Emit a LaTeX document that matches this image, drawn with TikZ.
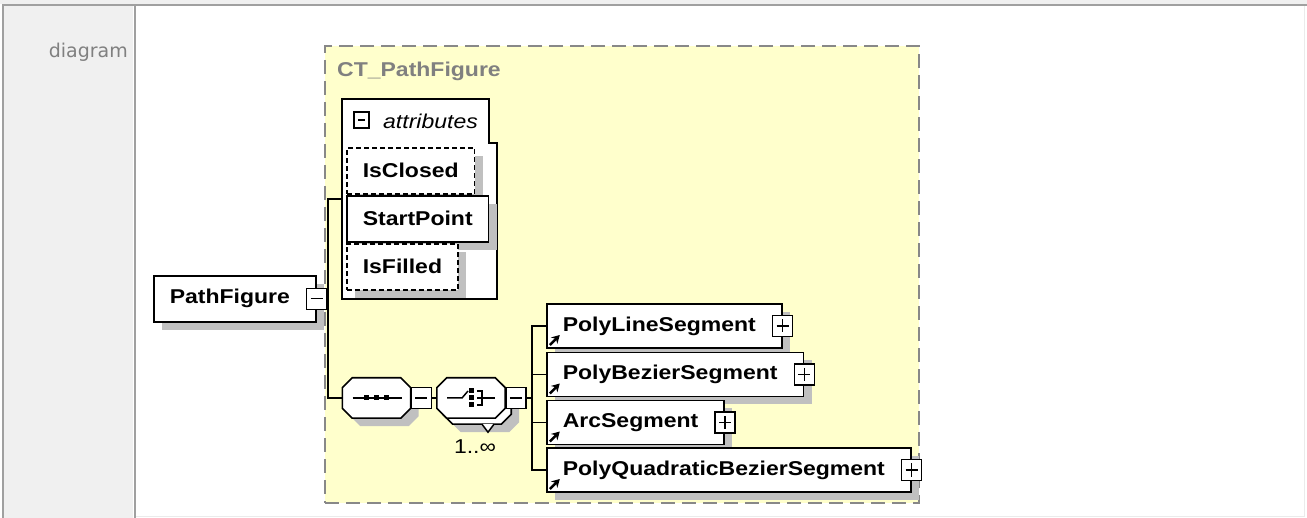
\documentclass[tikz,border=0pt]{standalone}
\usepackage{fontspec}
\setmainfont{Liberation Sans}[FakeStretch=1.15]
\newfontfamily\labelfont{DejaVu Sans}
\usetikzlibrary{shadows,arrows.meta,positioning}

\definecolor{ctyellow}{RGB}{255,255,204}
\definecolor{ctborder}{RGB}{136,136,136}
\definecolor{shadowgray}{RGB}{192,192,192}
\definecolor{tableline}{RGB}{160,160,160}
\definecolor{cellgray}{RGB}{240,240,240}
\definecolor{lightline}{RGB}{235,235,235}
\definecolor{labelgray}{RGB}{128,128,128}

\tikzset{
  shd/.style={drop shadow={shadow xshift=8pt,shadow yshift=-8pt,fill=shadowgray,opacity=1}},
  conn/.style={line width=1.5pt},
  ctbox/.style={draw=ctborder,fill=ctyellow,line width=2pt,dash pattern=on 14pt off 7pt},
  grpbox/.style={draw,fill=white,line width=1.6pt},
  box/.style={draw,fill=white,line width=1.6pt,shd,inner xsep=16pt,inner ysep=0pt,
    font=\fontsize{20}{24}\selectfont\bfseries,execute at end node={\hspace{10pt}}},
  elem/.style={box,anchor=west,minimum height=44pt,
    path picture={\draw[line width=2.4pt,-{Stealth[length=8pt,width=9pt]}]
      ([shift={(3pt,3pt)}]path picture bounding box.south west) -- ++(10pt,10pt);}},
  attr/.style={draw,fill=white,line width=1.6pt,shd,anchor=north west,inner xsep=16pt,
    inner ysep=0pt,minimum height=46pt,font=\fontsize{20}{24}\selectfont\bfseries},
  optattr/.style={attr,dash pattern=on 5pt off 3pt},
  pmbox/.style={draw,fill=white,line width=1.5pt,minimum width=20pt,minimum height=21pt,inner sep=0pt},
  minusbox/.style={pmbox,path picture={\draw[line width=1.4pt]
      ([xshift=4pt]path picture bounding box.west) -- ([xshift=-4pt]path picture bounding box.east);}},
  plusbox/.style={pmbox,path picture={\draw[line width=1.4pt]
      ([xshift=4pt]path picture bounding box.west) -- ([xshift=-4pt]path picture bounding box.east)
      ([yshift=-4pt]path picture bounding box.north) -- ([yshift=4pt]path picture bounding box.south);}},
  octa/.style={inner sep=0pt,minimum width=68pt,minimum height=40pt},
  octline/.style={draw,fill=white,line width=1.6pt},
}
% octagon round a named node
\newcommand{\drawocta}[2][]{%
  \draw[octline,#1] ([xshift=10pt]#2.north west) -- ([xshift=-10pt]#2.north east)
    -- ([yshift=-10pt]#2.north east) -- ([yshift=10pt]#2.south east)
    -- ([xshift=-10pt]#2.south east) -- ([xshift=10pt]#2.south west)
    -- ([yshift=10pt]#2.south west) -- ([yshift=-10pt]#2.north west) -- cycle;}

\begin{document}
\begin{tikzpicture}[x=1pt,y=-1pt]
  \useasboundingbox (0,0) rectangle (1307,518);
  % table cells
  \fill[white] (0,0) rectangle (1307,518);
  \fill[cellgray] (0,0) rectangle (1307,4);
  \fill[cellgray] (4,6) rectangle (133,518);
  \draw[lightline,line width=1.5pt] (1304.5,6) -- (1304.5,516.5) -- (135,516.5);
  \draw[tableline,line width=2pt] (2,5) -- (1307,5);
  \draw[tableline,line width=2pt] (3,5) -- (3,518);
  \draw[tableline,line width=2pt] (134.5,5) -- (134.5,518);
  \node[anchor=base east,inner sep=0pt,text=labelgray,font=\labelfont\fontsize{19}{23}\selectfont] (lbl) at (128,58) {diagram};

  % complex type
  \node[ctbox,anchor=north west,minimum width=594pt,minimum height=457pt] (ct) at (324,45) {};
  \node[anchor=west,inner sep=0pt,text=labelgray,font=\fontsize{20}{24}\selectfont\bfseries] (cttitle) at (337,71) {CT\_PathFigure};

  % attributes
  \draw[grpbox] (342,99) -| (489,143) -| (497,299) -- (342,299) -- cycle;
  \node[inner sep=0pt,minimum width=155pt,minimum height=200pt,anchor=north west] (attrs) at (342,99) {};
  \node[minusbox,minimum width=15pt,minimum height=16pt] (attrmin) at (361.5,120) {};
  \node[anchor=west,inner sep=0pt,font=\fontsize{20}{24}\selectfont\itshape] (attrlbl) at (383,121) {attributes};
  \node[optattr] (isclosed) at (346,147) {IsClosed};
  \node[attr] (startpoint) at (346,195) {StartPoint};
  \node[optattr] (isfilled) at (346,243) {IsFilled};

  % root element
  \node[box,anchor=north west,minimum height=46pt] (pathfigure) at (153,275) {PathFigure};
  \node[minusbox] (pfmin) at (pathfigure.east) {};
  \coordinate (trunk) at (328,298);
  \draw[conn] (pfmin.east) -- (trunk);
  \draw[conn] (attrs.west) -| (trunk);

  % sequence
  \node[octa] (seq) at (376.5,398) {};
  \drawocta[shd]{seq}
  \draw[conn] (seq.west) -| (trunk);
  \draw[conn] ([xshift=-24pt]seq.center) -- ([xshift=25pt]seq.center);
  \foreach \dx in {-10,0,10}
    \fill ([xshift=\dx pt]seq.center) +(-2.5,-2.5) rectangle +(2.5,2.5);
  \node[minusbox,anchor=west] (seqmin) at (seq.east) {};

  % choice 1..inf
  \node[octa] (choiceback) at (477,404) {};
  \drawocta[shd]{choiceback}
  \draw[conn,fill=white] ([xshift=5pt]choiceback.south) -- ([xshift=11pt,yshift=-8pt]choiceback.south)
    -- ([xshift=17pt]choiceback.south);
  \node[octa] (choice) at (471,398) {};
  \drawocta{choice}
  \draw[conn] (seqmin) -- (choice);
  \draw[conn] ([xshift=-24pt]choice.center) -- ++(15,0) -- ++(6,-7);
  \foreach \dy in {-7,0,7}
    \fill ([yshift=\dy pt]choice.center) +(-2.5,-2.5) rectangle +(2.5,2.5);
  \draw[conn] ([shift={(6pt,7pt)}]choice.center) -| ([shift={(11pt,-7pt)}]choice.center) -- ++(-5,0);
  \draw[conn] ([xshift=6pt]choice.center) -- ([xshift=24pt]choice.center);
  \node[minusbox,anchor=west] (chmin) at (choice.east) {};
  \node[inner sep=0pt,font=\fontsize{20}{24}\selectfont] (mult) at (475,447) {1..∞};
  \coordinate (trunk2) at (532,398);
  \draw[conn] (chmin) -- (trunk2);

  % segments
  \node[elem] (polyline) at (546,326) {PolyLineSegment};
  \node[elem] (polybezier) at (546,374.5) {PolyBezierSegment};
  \node[elem] (arc) at (546,422.5) {ArcSegment};
  \node[elem] (polyquad) at (546,470) {PolyQuadraticBezierSegment};
  \foreach \n in {polyline,polybezier,arc,polyquad}{
    \node[plusbox] (\n plus) at (\n.east) {};
    \draw[conn] (\n.west) -| (trunk2);
  }
\end{tikzpicture}
\end{document}
